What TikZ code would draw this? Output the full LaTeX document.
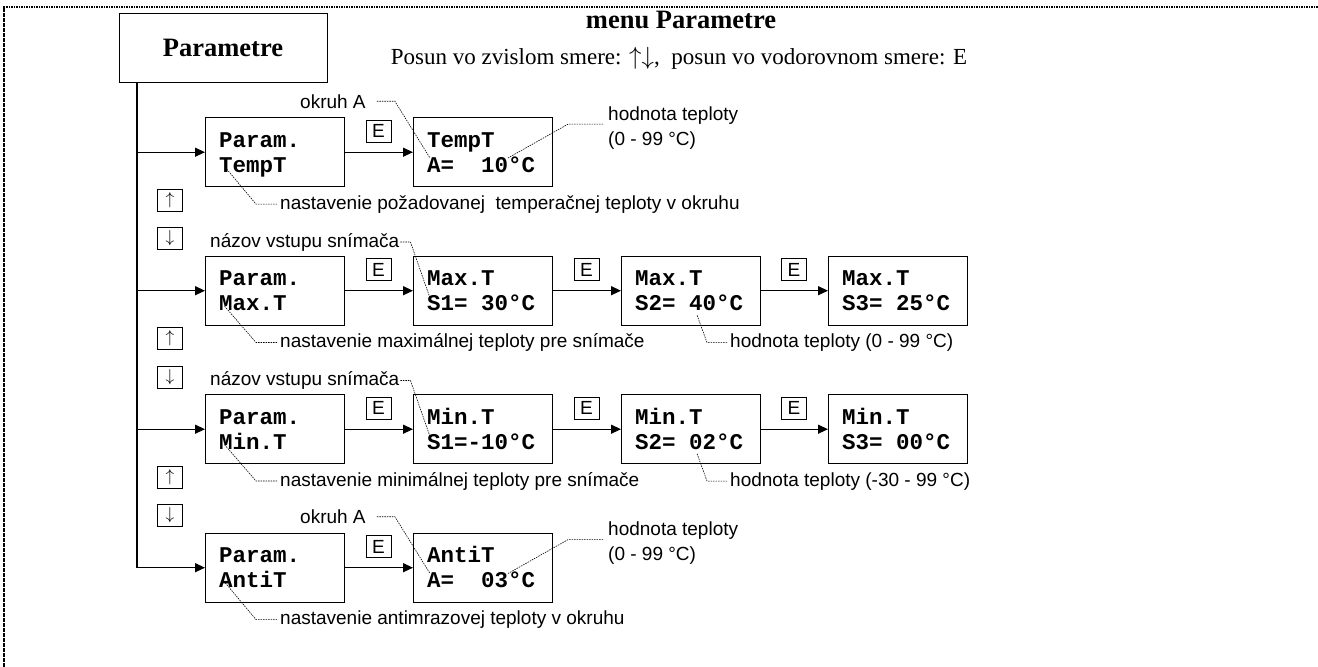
\documentclass[tikz,border=0pt]{standalone}
\usepackage{fontspec}
\setmainfont{Liberation Serif}
\newfontfamily\arialf{Liberation Sans}
\newfontfamily\monof{Liberation Mono}
\usetikzlibrary{arrows.meta}
\tikzset{
  lcd/.style={draw, line width=1.4pt, minimum width=139pt, minimum height=69pt, inner sep=0pt, anchor=north west},
  lcdtxt/.style={anchor=base west, inner sep=0pt, font=\monof\bfseries\fontsize{22.5}{25}\selectfont},
  lbl/.style={anchor=base west, inner sep=0pt, font=\arialf\fontsize{19}{22}\selectfont},
  keybox/.style={draw, line width=1pt, minimum width=25pt, minimum height=22pt, inner sep=0pt, font=\arialf\fontsize{19}{22}\selectfont},
  conn/.style={line width=1.3pt, -{Triangle[length=10pt,width=9pt]}},
  leader/.style={line width=0.6pt, dash pattern=on 1.5pt off 1pt},
  border/.style={line width=2.2pt, dash pattern=on 1.7pt off 0.8pt},
}
\newcommand\lcdbox[5]{%
  \node[lcd] (#1) at (#2,#3) {};
  \node[lcdtxt] (#1a) at (#2+14,#3+30) {#4};
  \node[lcdtxt] (#1b) at (#2+14,#3+55) {#5};
}
\begin{document}
\begin{tikzpicture}[x=1pt,y=-1pt]
\useasboundingbox (0,0) rectangle (1318,667);
\draw[border] (4,667) -- (4,6.7) -- (1318,6.7);

% title box and header
\node[draw, line width=1.4pt, minimum width=208pt, minimum height=69pt, anchor=north west, inner sep=0pt] (main) at (119,13) {};
\node[anchor=base, inner sep=0pt, font=\bfseries\fontsize{26.5}{30}\selectfont] (maint) at (223,56) {Parametre};
\node[anchor=base, inner sep=0pt, font=\bfseries\fontsize{26.5}{30}\selectfont] (hdr) at (681,28) {menu Parametre};
\node[anchor=base, inner sep=0pt, font=\fontsize{23}{26}\selectfont] (hdr2) at (679,64) {Posun vo zvislom smere: $\uparrow\downarrow$,~ posun vo vodorovnom smere: E};

% LCD boxes
\lcdbox{p1}{205}{117}{Param.}{TempT}
\lcdbox{v1}{413}{117}{TempT}{A=\ \ 10°C}
\lcdbox{p2}{205}{255.5}{Param.}{Max.T}
\lcdbox{m1}{413}{255.5}{Max.T}{S1=\ 30°C}
\lcdbox{m2}{621}{255.5}{Max.T}{S2=\ 40°C}
\lcdbox{m3}{828}{255.5}{Max.T}{S3=\ 25°C}
\lcdbox{p3}{205}{394}{Param.}{Min.T}
\lcdbox{n1}{413}{394}{Min.T}{S1=-10°C}
\lcdbox{n2}{621}{394}{Min.T}{S2=\ 02°C}
\lcdbox{n3}{828}{394}{Min.T}{S3=\ 00°C}
\lcdbox{p4}{205}{532.5}{Param.}{AntiT}
\lcdbox{a1}{413}{532.5}{AntiT}{A=\ \ 03°C}

% trunk and connectors
\coordinate (tr0) at (137,82);
\draw[conn] (tr0) |- (p4.west);
\draw[conn] (p1.west -| tr0) -- (p1.west);
\draw[conn] (p2.west -| tr0) -- (p2.west);
\draw[conn] (p3.west -| tr0) -- (p3.west);
\draw[conn] (p1) -- (v1);
\draw[conn] (p2) -- (m1);
\draw[conn] (m1) -- (m2);
\draw[conn] (m2) -- (m3);
\draw[conn] (p3) -- (n1);
\draw[conn] (n1) -- (n2);
\draw[conn] (n2) -- (n3);
\draw[conn] (p4) -- (a1);

% E keys
\node[keybox] (e1) at (378.5,131) {E};
\node[keybox] (e2a) at (378.5,269.5) {E};
\node[keybox] (e2b) at (586.5,269.5) {E};
\node[keybox] (e2c) at (794,269.5) {E};
\node[keybox] (e3a) at (378.5,408) {E};
\node[keybox] (e3b) at (586.5,408) {E};
\node[keybox] (e3c) at (794,408) {E};
\node[keybox] (e4) at (378.5,546.5) {E};

% up/down keys
\node[keybox] (u1) at (170,200) {$\uparrow$};
\node[keybox] (d1) at (170,238.5) {$\downarrow$};
\node[keybox] (u2) at (170,338.5) {$\uparrow$};
\node[keybox] (d2) at (170,377) {$\downarrow$};
\node[keybox] (u3) at (170,477) {$\uparrow$};
\node[keybox] (d3) at (170,515.5) {$\downarrow$};

% row 1 labels
\node[lbl] (ok1) at (300,108) {okruh A};
\coordinate (ok1t) at (430,158);
\draw[leader] ([xshift=11pt]ok1.east) -- ++(18,0) -- (ok1t);
\node[lbl] (h1) at (608,120) {hodnota teploty};
\node[lbl] (h1b) at (608,145) {(0 - 99 °C)};
\coordinate (h1t) at (508,158);
\draw[leader] ([xshift=-5pt]h1.south west) -- ++(-35,0) -- (h1t);
\node[lbl] (s1) at (280,209) {nastavenie požadovanej\ \ temperačnej teploty v okruhu};
\coordinate (s1t) at (225,167);
\draw[leader] ([xshift=-3pt]s1.west) -- ++(-21,0) -- (s1t);

% row 2 labels
\node[lbl] (nz2) at (210,247) {názov vstupu snímača};
\coordinate (nz2t) at (430,298);
\draw[leader] ([xshift=1pt]nz2.east) -- ++(10,0) -- (nz2t);
\node[lbl] (s2) at (280,347.5) {nastavenie maximálnej teploty pre snímače};
\coordinate (s2t) at (224,305.5);
\draw[leader] ([xshift=-3pt]s2.west) -- ++(-21,0) -- (s2t);
\node[lbl] (hv2) at (730,347.5) {hodnota teploty (0 - 99 °C)};
\coordinate (hv2t) at (697,315);
\draw[leader] ([xshift=-3pt]hv2.west) -- ++(-20,0) -- (hv2t);

% row 3 labels
\node[lbl] (nz3) at (210,385.5) {názov vstupu snímača};
\coordinate (nz3t) at (430,436.5);
\draw[leader] ([xshift=1pt]nz3.east) -- ++(10,0) -- (nz3t);
\node[lbl] (s3) at (280,486) {nastavenie minimálnej teploty pre snímače};
\coordinate (s3t) at (224,444);
\draw[leader] ([xshift=-3pt]s3.west) -- ++(-21,0) -- (s3t);
\node[lbl] (hv3) at (730,486) {hodnota teploty (-30 - 99 °C)};
\coordinate (hv3t) at (697,453.5);
\draw[leader] ([xshift=-3pt]hv3.west) -- ++(-20,0) -- (hv3t);

% row 4 labels
\node[lbl] (ok4) at (300,523.5) {okruh A};
\coordinate (ok4t) at (430,573.5);
\draw[leader] ([xshift=11pt]ok4.east) -- ++(18,0) -- (ok4t);
\node[lbl] (h4) at (608,535.5) {hodnota teploty};
\node[lbl] (h4b) at (608,560.5) {(0 - 99 °C)};
\coordinate (h4t) at (508,573.5);
\draw[leader] ([xshift=-5pt]h4.south west) -- ++(-35,0) -- (h4t);
\node[lbl] (s4) at (280,624.5) {nastavenie antimrazovej teploty v okruhu};
\coordinate (s4t) at (225,582.5);
\draw[leader] ([xshift=-3pt]s4.west) -- ++(-21,0) -- (s4t);
\end{tikzpicture}
\end{document}
